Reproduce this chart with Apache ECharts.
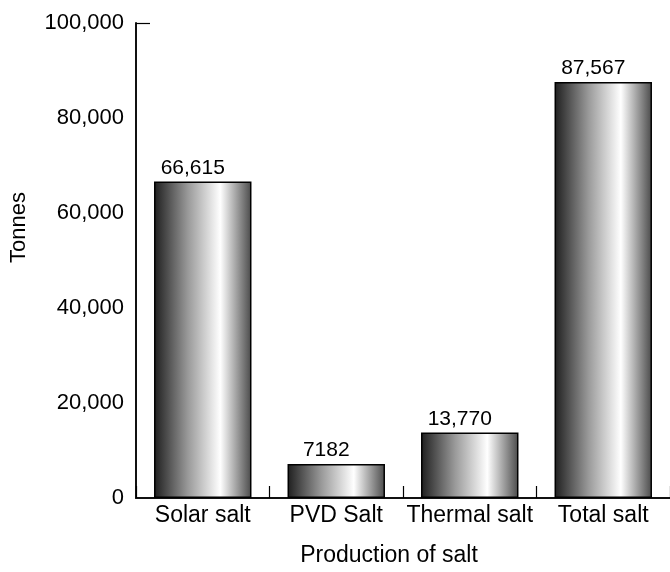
<!DOCTYPE html>
<html>
<head>
<meta charset="utf-8">
<script src="https://cdn.jsdelivr.net/npm/echarts@6/dist/echarts.min.js"></script>
<style>html,body{margin:0;padding:0;background:#fff;}#c{width:670px;height:572px;}</style>
</head>
<body>
<div id="c"></div>
<script>
const categories = ["Solar salt", "PVD Salt", "Thermal salt", "Total salt"];
const values = [66615, 7182, 13770, 87567];
const valueLabels = ["66,615", "7182", "13,770", "87,567"];
const yTicks = [0, 20000, 40000, 60000, 80000, 100000];
const yTickMarks = [100000];

const font = "'Liberation Sans', Arial, Helvetica, sans-serif";
const chart = echarts.init(document.getElementById('c'));
chart.setOption({
  animation: false,
  backgroundColor: '#fff',
  grid: { left: 134, top: 23, width: 542, bottom: 70, containLabel: false },
  xAxis: {
    type: 'category',
    data: categories,
    name: 'Production of salt',
    nameLocation: 'middle',
    nameGap: 46,
    nameTextStyle: { fontFamily: font, fontSize: 23, color: '#000', padding: [0, 28, 0, 0] },
    axisLine: { lineStyle: { color: '#111', width: 2 } },
    axisTick: { show: true, alignWithLabel: false, interval: 0, inside: true, length: 12, lineStyle: { color: '#000', width: 1.2 } },
    axisLabel: { fontFamily: font, fontSize: 23, color: '#000', margin: 6, interval: 0, hideOverlap: false }
  },
  yAxis: {
    type: 'value',
    min: 0, max: 100000, interval: 20000,
    name: 'Tonnes',
    nameLocation: 'middle',
    nameGap: 106,
    nameTextStyle: { fontFamily: font, fontSize: 22, color: '#000', padding: [0, 0, 0, 66] },
    splitLine: { show: false },
    axisLine: { show: true, lineStyle: { color: '#111', width: 2 } },
    axisTick: { show: true, inside: true, length: 14, customValues: yTickMarks, lineStyle: { color: '#000', width: 1.2 } },
    axisLabel: {
      fontFamily: font, fontSize: 22, color: '#000', margin: 12,
      formatter: v => yTicks.includes(v) ? v.toLocaleString('en-US') : ''
    }
  },
  series: [{
    type: 'bar',
    data: values,
    barWidth: '73%',
    itemStyle: {
      borderColor: '#000',
      borderWidth: 1.5,
      color: new echarts.graphic.LinearGradient(0, 0, 1, 0, [
        { offset: 0, color: '#1e1e1e' },
        { offset: 0.35, color: '#9a9a9a' },
        { offset: 0.68, color: '#ffffff' },
        { offset: 1, color: '#4a4a4a' }
      ])
    },
    label: {
      show: true,
      position: 'top',
      distance: 3,
      offset: [-10, 0],
      fontFamily: font,
      fontSize: 21,
      color: '#000',
      formatter: p => valueLabels[p.dataIndex]
    }
  }]
});
</script>
</body>
</html>
